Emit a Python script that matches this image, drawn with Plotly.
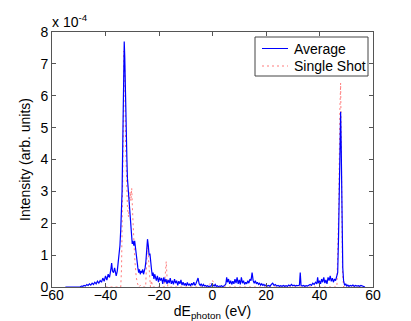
import plotly.graph_objects as go

# Values in units of 1e-4 (arb. units)
energy_avg = [-55, -52, -50.5, -50, -49.5, -49, -48.5, -48, -47.5, -47, -46.5, -46,
              -45.5, -45, -44.5, -44, -43.5, -43, -42.5, -42, -41.5, -41, -40.5, -40,
              -39.5, -39, -38.5, -38, -37.7, -37.4, -37, -36.6, -36.3, -36, -35.6, -35.2,
              -34.9, -34.6, -34.3, -34, -33.8, -33.6, -33.4, -33.2, -33.0, -32.8, -32.6,
              -32.4, -32.2, -32.0, -31.8, -31.5, -31.2, -30.9, -30.6, -30.3, -30.0, -29.7,
              -29.4, -29.1, -28.8, -28.5, -28.2, -27.9, -27.6, -27.3, -27.0, -26.7, -26.4,
              -26.1, -25.8, -25.5, -25.2, -24.9, -24.6, -24.3, -24.0, -23.7, -23.4, -23.1,
              -22.8, -22.5, -22.2, -21.9, -21.6, -21.3, -21, -20.6, -20.2, -19.8, -19.4,
              -19, -18.6, -18.2, -17.8, -17.4, -17, -16.6, -16.2, -15.8, -15.4, -15, -14.6,
              -14.2, -13.8, -13.4, -13, -12.6, -12.2, -11.8, -11.4, -11, -10.6, -10.2, -9.8,
              -9.4, -9, -8.6, -8.2, -7.8, -7.4, -7, -6.6, -6.2, -5.8, -5.4, -5, -4.6, -4.2,
              -3.8, -3.4, -3, -2.6, -2.2, -1.8, -1.4, -1, -0.6, -0.2, 0.2, 0.6, 1, 1.4, 1.8,
              2.2, 2.6, 3, 3.4, 3.8, 4.2, 4.6, 5, 5.3, 5.6, 6, 6.4, 6.8, 7.2, 7.6, 8, 8.4,
              8.8, 9.2, 9.6, 10, 10.4, 10.8, 11.2, 11.6, 12, 12.4, 12.8, 13.2, 13.6, 14,
              14.4, 14.8, 15.2, 15.6, 16, 16.4, 16.8, 17.2, 17.6, 18, 18.4, 18.8, 19.2,
              19.6, 20, 20.5, 21, 21.5, 22, 22.5, 23, 23.5, 24, 24.5, 25, 25.5, 26, 26.5,
              27, 27.5, 28, 28.5, 29, 29.5, 30, 30.5, 31, 31.5, 32, 32.5, 32.8, 33.1, 33.5,
              34, 34.5, 35, 35.5, 36, 36.5, 37, 37.5, 38, 38.5, 39, 39.3, 39.6, 40, 40.4,
              40.8, 41.2, 41.6, 42, 42.4, 42.8, 43.2, 43.6, 44, 44.4, 44.8, 45.2, 45.6, 46,
              46.4, 46.8, 47.1, 47.4, 47.7, 47.9, 48.1, 48.4, 48.7, 49, 49.4, 49.8, 50.2,
              50.6, 51, 51.5, 52, 52.5, 53, 53.5, 54, 54.5, 55, 55.5, 56, 56.5, 57]
intensity_avg = [0, 0, 0, 0.02, 0.0, 0.03, 0.02, 0.05, 0.03, 0.08, 0.05, 0.1,
                 0.06, 0.12, 0.08, 0.15, 0.1, 0.18, 0.12, 0.2, 0.15, 0.28, 0.18, 0.35,
                 0.22, 0.4, 0.3, 0.55, 0.75, 0.5, 0.45, 0.6, 0.4, 0.35, 0.5, 0.8,
                 1.0, 1.3, 1.8, 2.3, 3.0, 4.2, 5.3, 6.6, 7.7, 7.2, 6.2,
                 4.6, 4.9, 4.0, 3.4, 3.1, 2.8, 2.3, 2.0, 1.7, 1.35, 1.45,
                 1.3, 1.45, 1.2, 1.0, 0.8, 0.6, 0.45, 0.55, 0.4, 0.5, 0.45,
                 0.55, 0.4, 0.5, 0.6, 0.8, 1.2, 1.5, 1.3, 1.0, 1.05, 0.7,
                 0.55, 0.35, 0.45, 0.25, 0.4, 0.3, 0.2, 0.35, 0.15, 0.3, 0.2,
                 0.28, 0.1, 0.3, 0.15, 0.25, 0.1, 0.22, 0.12, 0.28, 0.1, 0.2, 0.08,
                 0.25, 0.12, 0.2, 0.05, 0.18, 0.1, 0.22, 0.06, 0.15, 0.05, 0.12, 0.04,
                 0.14, 0.05, 0.1, 0.03, 0.12, 0.06, 0.15, 0.05, 0.1, 0.18, 0.28, 0.1, 0.05, 0.1,
                 0.02, 0.08, 0.03, 0.05, 0.02, 0.04, 0.01, 0.03, 0.02, 0.1, 0.05, 0.03, 0.08, 0.02, 0.04,
                 0.01, 0.03, 0.02, 0.04, 0.01, 0.03, 0.05, 0.1, 0.3, 0.15, 0.25, 0.1, 0.2, 0.08, 0.18, 0.1, 0.25,
                 0.12, 0.3, 0.1, 0.22, 0.08, 0.3, 0.12, 0.2, 0.08, 0.15, 0.1, 0.2, 0.12, 0.25,
                 0.2, 0.45, 0.2, 0.12, 0.2, 0.1, 0.15, 0.08, 0.12, 0.06, 0.1, 0.05, 0.08,
                 0.04, 0.06, 0.03, 0.05, 0.02, 0.08, 0.12, 0.05, 0.08, 0.03, 0.05, 0.02, 0.04, 0.02, 0.05,
                 0.02, 0.04, 0.02, 0.06, 0.03, 0.08, 0.04, 0.06, 0.03, 0.05, 0.04, 0.06, 0.45, 0.05, 0.03,
                 0.05, 0.02, 0.04, 0.03, 0.06, 0.08, 0.05, 0.12, 0.08, 0.15, 0.1, 0.3, 0.12, 0.2, 0.1,
                 0.25, 0.15, 0.3, 0.12, 0.22, 0.1, 0.3, 0.2, 0.35, 0.18, 0.28, 0.15, 0.25, 0.2,
                 0.35, 0.45, 1.5, 3.5, 5.2, 5.5, 4.5, 2.0, 0.6, 0.2, 0.05, 0.1, 0.03,
                 0.06, 0.02, 0.05, 0.03, 0.06, 0.02, 0.05, 0.03, 0.04, 0.02, 0.05, 0.03, 0.02, 0]

energy_single = [-40, -34.3, -34.0, -33.7, -33.4, -33.1, -32.8, -32.5, -32.2, -31.8, -31.4,
                 -31.1, -30.8, -30.5, -30.2, -29.9, -29.6, -29.3, -29, -28.5, -28, -27.5,
                 -27, -26.5, -25, -24.7, -24.3, -24, -23.6, -23.2, -22.8, -22.4, -18, -17.6,
                 -17.3, -17, -16.7, -10, -2, -1, 0, 1, 2, 46.5, 47.2, 47.6, 47.9, 48.2, 48.6,
                 49, 55]
intensity_single = [0, 0, 0.6, 2.0, 4.5, 7.4, 6.8, 4.5, 3.5, 2.5, 2.2,
                    2.6, 3.0, 2.7, 3.1, 2.4, 2.0, 1.3, 0.8, 0.3, 0.1, 0,
                    0.05, 0, 0, 0.6, 1.4, 1.0, 0.4, 0, 0.2, 0, 0, 0.4,
                    0.8, 0.3, 0, 0, 0, 0.1, 0.2, 0.05, 0, 0, 2.5, 5.5, 6.4, 4.0, 0.5,
                    0, 0]

x_ticks = [-60, -40, -20, 0, 20, 40, 60]
y_ticks = [0, 1, 2, 3, 4, 5, 6, 7, 8]
legend_labels = ["Average", "Single Shot"]

BLUE = "#0000ff"
RED = "rgba(255,90,90,0.8)"
AX = "#555555"

fig = go.Figure()
fig.add_trace(go.Scatter(x=energy_single, y=intensity_single, mode="lines", name=legend_labels[1],
                         line=dict(color=RED, width=1, dash="2px,3px"), showlegend=False))
fig.add_trace(go.Scatter(x=energy_avg, y=intensity_avg, mode="lines", name=legend_labels[0],
                         line=dict(color=BLUE, width=1.2), showlegend=False))

axis_common = dict(showline=True, linecolor=AX, linewidth=1, mirror="ticks",
                   ticks="inside", ticklen=4, tickcolor=AX, showgrid=False,
                   zeroline=False, tickfont=dict(size=14, color="black"))

fig.update_layout(
    width=411, height=321,
    margin=dict(l=44, r=46, t=24, b=42),
    plot_bgcolor="white", paper_bgcolor="white",
    font=dict(family="Liberation Sans, Arial, sans-serif", size=14, color="black"),
    xaxis=dict(range=[-60, 60], tickvals=x_ticks, ticklabelstandoff=-5,
               title=dict(text="dE<sub>photon</sub> (eV)", standoff=0, font=dict(size=14)),
               **axis_common),
    yaxis=dict(range=[0, 8], tickvals=y_ticks,
               title=dict(text="Intensity (arb. units)", standoff=6, font=dict(size=14)),
               **axis_common),
    showlegend=False,
)
fig.add_annotation(text="x 10<sup>-4</sup>", xref="paper", yref="paper", x=0, y=1,
                   xanchor="left", yanchor="bottom", showarrow=False,
                   font=dict(size=14, color="black"), xshift=-2, yshift=0)

# manual legend box (paper coords of plot area: x 44..365 px, y 24..279 px)
def px_x(p):
    return (p - 44) / 321.0

def px_y(p):
    return (279 - p) / 255.0

fig.add_shape(type="rect", xref="paper", yref="paper",
              x0=px_x(247), x1=px_x(360), y0=px_y(68), y1=px_y(29),
              line=dict(color="#444444", width=1), fillcolor="white", layer="above")
fig.add_shape(type="line", xref="paper", yref="paper",
              x0=px_x(254), x1=px_x(280), y0=px_y(40.5), y1=px_y(40.5),
              line=dict(color=BLUE, width=1), layer="above")
fig.add_shape(type="line", xref="paper", yref="paper",
              x0=px_x(254), x1=px_x(280), y0=px_y(58), y1=px_y(58),
              line=dict(color=RED, width=1, dash="2px,3px"), layer="above")
for lab, yy in zip(legend_labels, [40.5, 58]):
    fig.add_annotation(text=lab, xref="paper", yref="paper", x=px_x(284), y=px_y(yy),
                       xanchor="left", yanchor="middle", showarrow=False,
                       font=dict(size=14, color="black"))

fig.add_shape(type="line", xref="paper", yref="paper", x0=1.118, x1=1.118, y0=-0.2, y1=1.12,
              line=dict(color="#eeeeee", width=1))

fig.write_html("out.html")
